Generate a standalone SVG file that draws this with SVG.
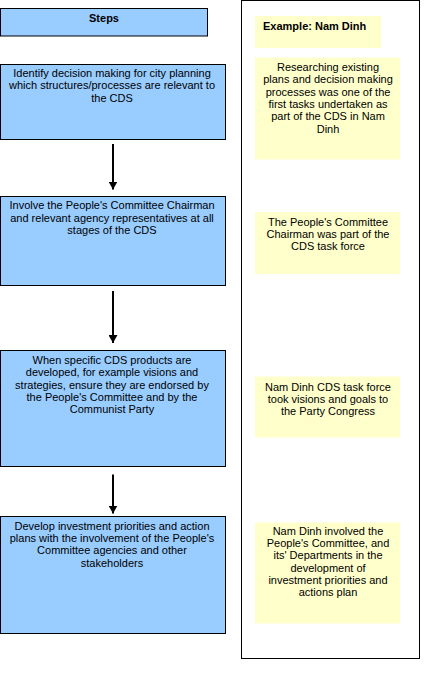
<svg xmlns="http://www.w3.org/2000/svg" width="437" height="676" viewBox="0 0 437 676">
<style>
.step{fill:#99CCFF;stroke:#000;stroke-width:1}
.ex{fill:#FFFFCC;stroke:none}
.frame{fill:#fff;stroke:#000;stroke-width:1}
text{font-family:"Liberation Sans",Arial,sans-serif;font-size:11px;fill:#000}
.c{text-anchor:middle}
.b{font-weight:bold}
.conn{stroke:#000;stroke-width:2;fill:none}
</style>
<defs>
<marker id="ah" markerUnits="userSpaceOnUse" markerWidth="9" markerHeight="9" refX="8" refY="4.5" orient="auto">
<path d="M0,0 L8,4.5 L0,9 Z" fill="#000"/>
</marker>
</defs>
<rect width="437" height="676" fill="#fff"/>
<rect class="frame" x="241.5" y="0.5" width="178" height="658"/>
<g id="steps-header">
<rect class="step" x="0.5" y="8.5" width="207" height="27.5"/>
<text class="c b" x="104" y="22">Steps</text>
</g>
<g id="step1">
<rect class="step" x="0.5" y="64.5" width="225" height="75"/>
<text class="c" x="112" y="77">Identify decision making for city planning</text>
<text class="c" x="112" y="89.3">which structures/processes are relevant to</text>
<text class="c" x="112" y="101.6">the CDS</text>
</g>
<g id="step2">
<rect class="step" x="0.5" y="196.5" width="225" height="89"/>
<text class="c" x="112" y="209.3">Involve the People's Committee Chairman</text>
<text class="c" x="112" y="221.8">and relevant agency representatives at all</text>
<text class="c" x="112" y="234.3">stages of the CDS</text>
</g>
<g id="step3">
<rect class="step" x="0.5" y="350.5" width="225" height="116"/>
<text class="c" x="112" y="364">When specific CDS products are</text>
<text class="c" x="112" y="376.3">developed, for example visions and</text>
<text class="c" x="112" y="388.5">strategies, ensure they are endorsed by</text>
<text class="c" x="112" y="400.7">the People's Committee and by the</text>
<text class="c" x="112" y="412.9">Communist Party</text>
</g>
<g id="step4">
<rect class="step" x="0.5" y="516.5" width="225" height="117"/>
<text class="c" x="112" y="529.5">Develop investment priorities and action</text>
<text class="c" x="112" y="541.9">plans with the involvement of the People's</text>
<text class="c" x="112" y="554.3">Committee agencies and other</text>
<text class="c" x="112" y="566.7">stakeholders</text>
</g>
<g id="example-header">
<rect class="ex" x="255" y="16" width="126" height="32"/>
<text class="b" x="263" y="29.5">Example: Nam Dinh</text>
</g>
<g id="example1">
<rect class="ex" x="255" y="57.5" width="145" height="102"/>
<text class="c" x="328" y="70.7">Researching existing</text>
<text class="c" x="328" y="83.1">plans and decision making</text>
<text class="c" x="328" y="95.5">processes was one of the</text>
<text class="c" x="328" y="107.9">first tasks undertaken as</text>
<text class="c" x="328" y="120.3">part of the CDS in Nam</text>
<text class="c" x="328" y="132.7">Dinh</text>
</g>
<g id="example2">
<rect class="ex" x="255" y="212" width="145" height="62"/>
<text class="c" x="328" y="225.7">The People's Committee</text>
<text class="c" x="328" y="238">Chairman was part of the</text>
<text class="c" x="328" y="250.3">CDS task force</text>
</g>
<g id="example3">
<rect class="ex" x="255" y="376.5" width="145" height="61"/>
<text class="c" x="328" y="390.7">Nam Dinh CDS task force</text>
<text class="c" x="328" y="402.9">took visions and goals to</text>
<text class="c" x="328" y="415.1">the Party Congress</text>
</g>
<g id="example4">
<rect class="ex" x="255" y="522.5" width="145" height="101"/>
<text class="c" x="328" y="534.8">Nam Dinh involved the</text>
<text class="c" x="328" y="547.1">People's Committee, and</text>
<text class="c" x="328" y="559.4">its' Departments in the</text>
<text class="c" x="328" y="571.7">development of</text>
<text class="c" x="328" y="584">investment priorities and</text>
<text class="c" x="328" y="596.3">actions plan</text>
</g>
<g id="connectors">
<line class="conn" x1="113" y1="144" x2="113" y2="189.5" marker-end="url(#ah)"/>
<line class="conn" x1="113" y1="291" x2="113" y2="343" marker-end="url(#ah)"/>
<line class="conn" x1="113" y1="474.5" x2="113" y2="513.5" marker-end="url(#ah)"/>
</g>
</svg>
